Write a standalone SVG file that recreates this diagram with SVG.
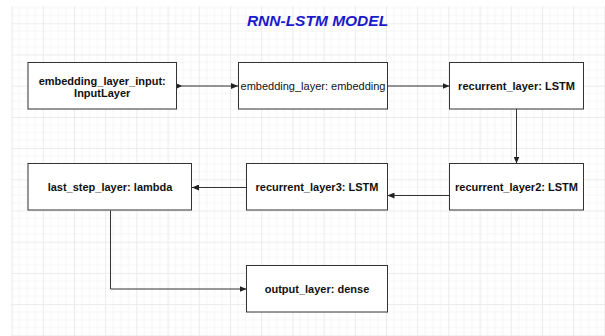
<svg xmlns="http://www.w3.org/2000/svg" width="605" height="336" viewBox="0 0 605 336">
  <defs>
    <pattern id="grid" patternUnits="userSpaceOnUse" x="11.6" y="23.3" width="31.2" height="31.2">
      <rect x="0" y="0" width="31.2" height="31.2" fill="#ffffff"/>
      <path d="M7.8,0V31.2M15.6,0V31.2M23.4,0V31.2M0,7.8H31.2M0,15.6H31.2M0,23.4H31.2" stroke="#f6f6f6" stroke-width="1" fill="none"/>
      <path d="M0.5,0V31.2M0,0.5H31.2" stroke="#ebebeb" stroke-width="1" fill="none"/>
    </pattern>
    <marker id="arr" viewBox="0 0 7 6" markerUnits="userSpaceOnUse" markerWidth="7" markerHeight="6" refX="7" refY="3" orient="auto">
      <path d="M0,0L7,3L0,6z" fill="#222"/>
    </marker>
    <marker id="arrStart" viewBox="0 0 5 5" markerUnits="userSpaceOnUse" markerWidth="5" markerHeight="5" refX="0" refY="2.5" orient="auto">
      <path d="M0,0L5,2.5L0,5z" fill="#222"/>
    </marker>
  </defs>
  <style>
    .node rect { fill: #ffffff; stroke: #333333; stroke-width: 1; }
    .lbl { font-family: "Liberation Sans", Arial, sans-serif; font-size: 11px; font-weight: bold; fill: #111111; text-anchor: middle; }
    .reg { font-weight: normal; }
    .conn { fill: none; stroke: #333333; stroke-width: 1; }
    .title { font-family: "Liberation Sans", Arial, sans-serif; font-size: 15.5px; font-weight: bold; font-style: italic; fill: #1a1acc; text-anchor: middle; }
  </style>
  <rect x="0" y="0" width="605" height="336" fill="#ffffff"/>
  <rect x="11" y="6" width="594" height="330" fill="url(#grid)"/>

  <text class="title" x="317.5" y="26">RNN-LSTM MODEL</text>

  <g id="connectors">
    <path class="conn" d="M177,86H238" marker-start="url(#arrStart)" marker-end="url(#arr)"/>
    <path class="conn" d="M387.5,86H449.5" marker-end="url(#arr)"/>
    <path class="conn" d="M516.5,109V163.5" marker-end="url(#arr)"/>
    <path class="conn" d="M449.5,195.5H387.5" marker-end="url(#arr)"/>
    <path class="conn" d="M246.5,187.5H192" marker-end="url(#arr)"/>
    <path class="conn" d="M110.5,210.5V289H246.5" marker-end="url(#arr)"/>
  </g>

  <g id="embedding_layer_input" class="node">
    <rect x="28" y="62.5" width="148.5" height="46.5"/>
    <text class="lbl" x="102.2" y="84.8">embedding_layer_input:</text>
    <text class="lbl" x="102.2" y="97">InputLayer</text>
  </g>
  <g id="embedding_layer" class="node">
    <rect x="238.5" y="62.5" width="149" height="46.5"/>
    <text class="lbl reg" x="313" y="89.5">embedding_layer: embedding</text>
  </g>
  <g id="recurrent_layer" class="node">
    <rect x="449.5" y="62.5" width="134" height="46.5"/>
    <text class="lbl" x="516.5" y="89.5">recurrent_layer: LSTM</text>
  </g>
  <g id="last_step_layer" class="node">
    <rect x="28" y="163.5" width="163.5" height="46.5"/>
    <text class="lbl" x="110" y="191">last_step_layer: lambda</text>
  </g>
  <g id="recurrent_layer3" class="node">
    <rect x="246.5" y="163.5" width="141" height="46.5"/>
    <text class="lbl" x="317" y="191">recurrent_layer3: LSTM</text>
  </g>
  <g id="recurrent_layer2" class="node">
    <rect x="449.5" y="163.5" width="134" height="46.5"/>
    <text class="lbl" x="516.5" y="191">recurrent_layer2: LSTM</text>
  </g>
  <g id="output_layer" class="node">
    <rect x="246.5" y="265.5" width="141" height="46.5"/>
    <text class="lbl" x="317" y="293">output_layer: dense</text>
  </g>
</svg>
